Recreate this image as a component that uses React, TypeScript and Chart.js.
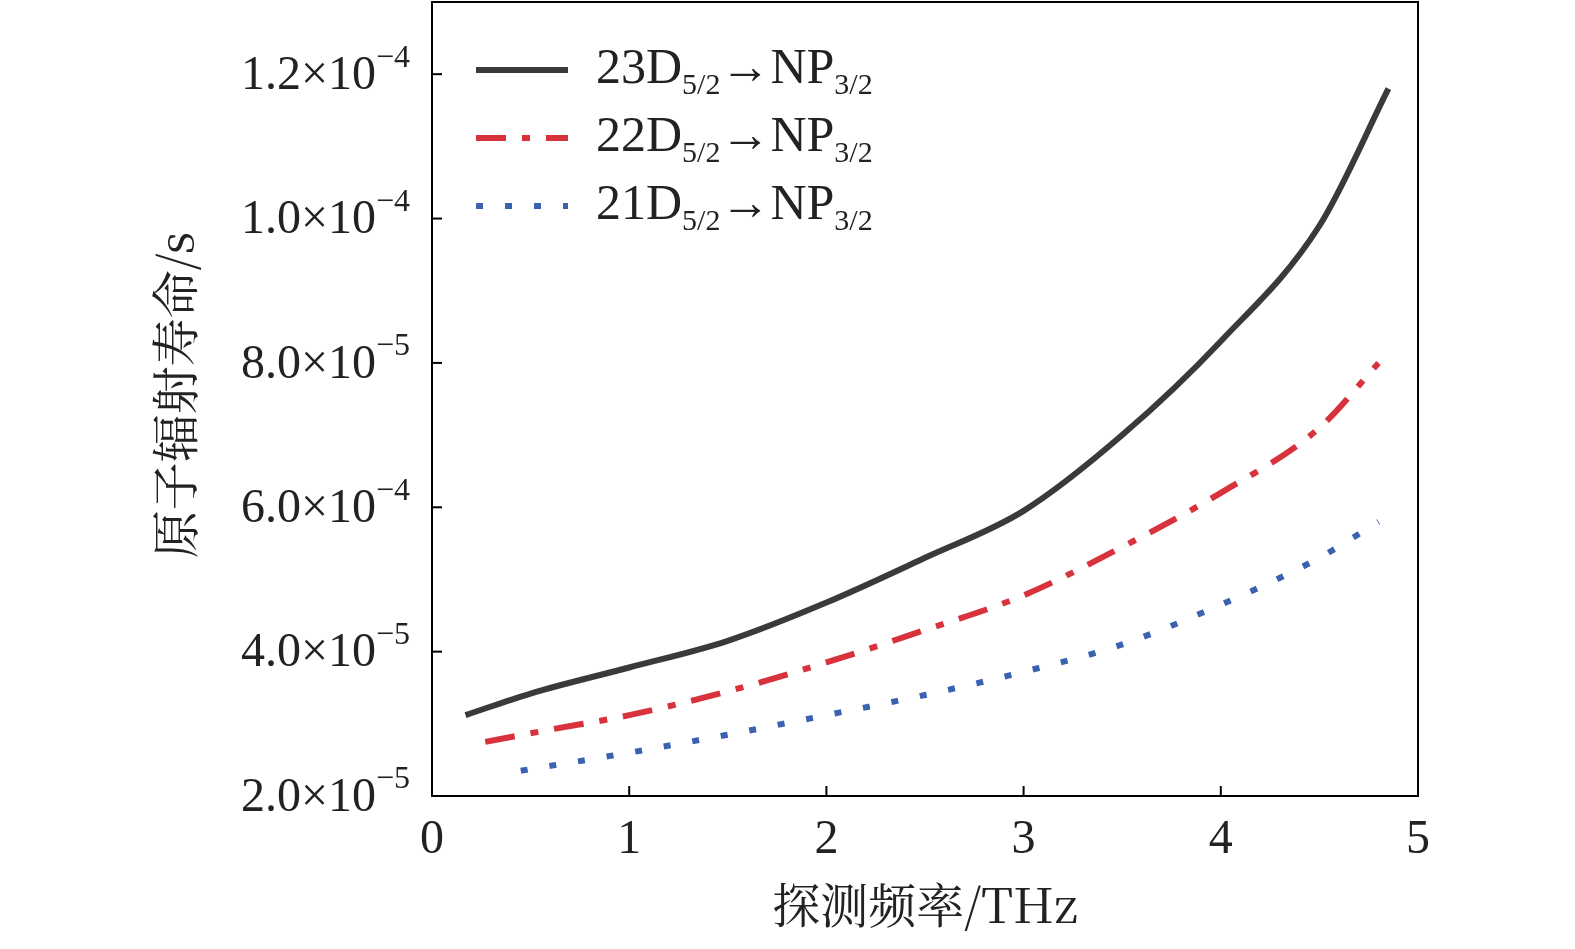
import React, { useEffect, useRef } from "react";
import { Chart, registerables } from "chart.js";
Chart.register(...registerables);

const xTicks = [0, 1, 2, 3, 4, 5];
const yTicks = [2e-5, 4e-5, 6e-5, 8e-5, 1e-4, 1.2e-4];
const yTickLabels = [["2.0×10", "−5"], ["4.0×10", "−5"], ["6.0×10", "−4"], ["8.0×10", "−5"], ["1.0×10", "−4"], ["1.2×10", "−4"]];
const xBlack = [0.17, 0.5, 1, 1.5, 2, 2.5, 3, 3.5, 4, 4.5, 4.85];
const yBlack = [3.12e-5, 3.42e-5, 3.78e-5, 4.15e-5, 4.68e-5, 5.3e-5, 5.95e-5, 7.0e-5, 8.3e-5, 9.9e-5, 1.18e-4];
const xRed = [0.27, 0.6, 1, 1.5, 2, 2.5, 3, 3.5, 4, 4.5, 4.8];
const yRed = [2.75e-5, 2.92e-5, 3.12e-5, 3.45e-5, 3.85e-5, 4.3e-5, 4.78e-5, 5.45e-5, 6.2e-5, 7.1e-5, 8.0e-5];
const xBlue = [0.45, 1, 1.5, 2, 2.5, 3, 3.5, 4, 4.5, 4.8];
const yBlue = [2.35e-5, 2.6e-5, 2.85e-5, 3.12e-5, 3.4e-5, 3.72e-5, 4.1e-5, 4.65e-5, 5.3e-5, 5.8e-5];
const legendLevels = ["23", "22", "21"];
const colors = ["#3a3a3a", "#d8323c", "#3a62b0"];
const dashes = [[], [30, 16, 8, 16], [7, 22]];

const SERIF = '"Liberation Serif", "DejaVu Serif", serif';

export default function App() {
  const ref = useRef<HTMLCanvasElement>(null);
  useEffect(() => {
    document.body.style.margin = "0";
    const pts = (xs: number[], ys: number[]) => xs.map((x, i) => ({ x, y: ys[i] }));
    const sets = [pts(xBlack, yBlack), pts(xRed, yRed), pts(xBlue, yBlue)];
    const overlay = {
      id: "overlay",
      afterDraw(c: any) {
        const ctx = c.ctx;
        const xs = c.scales.x, ys = c.scales.y;
        const a = c.chartArea;
        ctx.save();
        ctx.strokeStyle = "#000";
        ctx.lineWidth = 2;
        ctx.strokeRect(a.left, a.top, a.right - a.left, a.bottom - a.top);
        ctx.fillStyle = "#222";
        ctx.font = `48px ${SERIF}`;
        ctx.textBaseline = "middle";
        xTicks.forEach((t) => {
          const px = xs.getPixelForValue(t);
          ctx.beginPath(); ctx.moveTo(px, a.bottom); ctx.lineTo(px, a.bottom - 10); ctx.stroke();
          ctx.textAlign = "center";
          ctx.fillText(String(t), px, a.bottom + 44);
        });
        yTicks.forEach((t, i) => {
          const py = ys.getPixelForValue(t);
          ctx.beginPath(); ctx.moveTo(a.left, py); ctx.lineTo(a.left + 10, py); ctx.stroke();
          const [m, e] = yTickLabels[i];
          ctx.font = `32px ${SERIF}`;
          const ew = ctx.measureText(e).width;
          ctx.textAlign = "right";
          ctx.fillText(e, a.left - 22, py - 16);
          ctx.font = `48px ${SERIF}`;
          ctx.fillText(m, a.left - 22 - ew, py + 2);
        });
        ctx.textAlign = "center";
        ctx.font = `48px "Noto Serif CJK SC", "Noto Sans CJK SC", ${SERIF}`;
        ctx.fillText("探测频率/THz", (a.left + a.right) / 2, 905);
        ctx.save();
        ctx.translate(175, 395);
        ctx.rotate(-Math.PI / 2);
        ctx.fillText("原子辐射寿命/s", 0, 0);
        ctx.restore();
        legendLevels.forEach((lv, i) => {
          const y = 70 + i * 68;
          ctx.strokeStyle = colors[i];
          ctx.lineWidth = 6;
          ctx.setLineDash(dashes[i]);
          ctx.beginPath(); ctx.moveTo(476, y); ctx.lineTo(568, y); ctx.stroke();
          ctx.setLineDash([]);
          ctx.fillStyle = "#222";
          ctx.textAlign = "left";
          let x = 596;
          const draw = (s: string, size: number, dy: number) => {
            ctx.font = `${size}px ${SERIF}`;
            ctx.fillText(s, x, y + dy);
            x += ctx.measureText(s).width;
          };
          draw(lv + "D", 50, 0);
          draw("5/2", 30, 16);
          draw("→NP", 50, 0);
          draw("3/2", 30, 16);
        });
        ctx.restore();
      },
    };
    const chart = new Chart(ref.current!, {
      type: "line",
      data: {
        datasets: sets.map((d, i) => ({
          data: d,
          borderColor: colors[i],
          borderWidth: 6,
          borderDash: dashes[i],
          pointRadius: 0,
          cubicInterpolationMode: "monotone" as const,
          fill: false,
        })),
      },
      options: {
        animation: false,
        responsive: false,
        layout: { padding: { left: 432, right: 157, top: 2, bottom: 153 } },
        plugins: { legend: { display: false }, tooltip: { enabled: false } },
        scales: {
          x: { type: "linear", min: 0, max: 5, display: false },
          y: { min: 2e-5, max: 1.3e-4, display: false },
        },
      },
      plugins: [overlay],
    });
    return () => chart.destroy();
  }, []);
  return <canvas ref={ref} width={1575} height={949} style={{ display: "block" }} />;
}
